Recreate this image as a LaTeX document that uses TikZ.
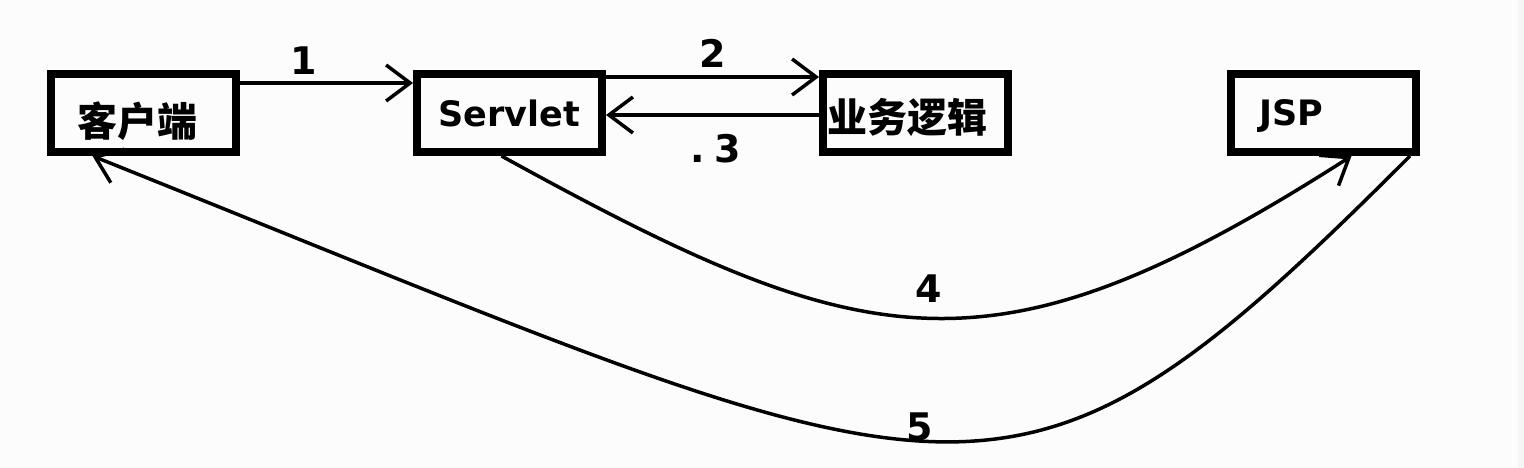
\documentclass[tikz,border=0pt]{standalone}
\usepackage{fontspec}
\setmainfont{DejaVu Sans}
\newfontfamily\cjk{Noto Sans CJK SC}
\usetikzlibrary{arrows.meta,positioning}
\definecolor{paper}{RGB}{252,252,252}
\definecolor{edgestrip}{RGB}{246,246,246}
\tikzset{
  box/.style={draw, line width=8pt, minimum width=185pt, minimum height=78pt,
    inner sep=0pt, font=\bfseries\fontsize{35}{40}\selectfont},
  zh/.style={font=\cjk\bfseries\fontsize{40}{44}\selectfont},
  link/.style={line width=3.5pt, -{Straight Barb[length=24pt,width=36pt]}},
  num/.style={inner sep=0pt, font=\bfseries\fontsize{38}{40}\selectfont}
}

\begin{document}
\begin{tikzpicture}[x=1pt, y=-1pt]
  \fill[paper] (0,0) rectangle (1524,468);
  \fill[edgestrip] (1518,0) rectangle (1524,468);
  \useasboundingbox (0,0) rectangle (1524,468);
  % the four boxes
  \node[box, zh, align=left, text width=133pt, inner xsep=26pt,
        text height=48pt, text depth=0pt] (client) at (143.5,113) {客户端};
  \node[box, right=173pt of client] (servlet) {Servlet};
  \node[box, zh, right=213pt of servlet, align=left, text width=177pt,
        inner xsep=4pt, text height=40pt, text depth=0pt] (logic) {业务逻辑};
  \node[box, right=215pt of logic, align=left, text width=129pt,
        inner xsep=28pt, text depth=0pt] (jsp) {JSP};
  % request and reply
  \draw[link] ([yshift=30pt]client.east) -- ([yshift=30pt]servlet.west)
    node[num, pos=0.37, above=7pt] (n1) {1};
  \draw[link] ([yshift=36pt]servlet.east) -- ([yshift=36pt]servlet.east -| logic.west)
    node[num, midway, above=8pt] (n2) {2};
  \draw[link] ([yshift=-2pt]logic.west) -- ([yshift=-2pt]logic.west -| servlet.east)
    node[num, midway, below=18pt, xshift=3pt] (n3) {.\hspace{10pt}3};
  % forward to JSP, then back to the client
  \draw[link] ([xshift=-8pt]servlet.south) .. controls +(367,202) and +(-360,230)
    .. ([xshift=28pt]jsp.south) node[num, pos=0.5, above=14pt] (n4) {4};
  \draw[link] ([xshift=-10pt]jsp.south east) .. controls +(-407,407) and +(884,354)
    .. ([xshift=-51pt]client.south) node[num, pos=0.51, above=-2pt] (n5) {5};
\end{tikzpicture}
\end{document}
